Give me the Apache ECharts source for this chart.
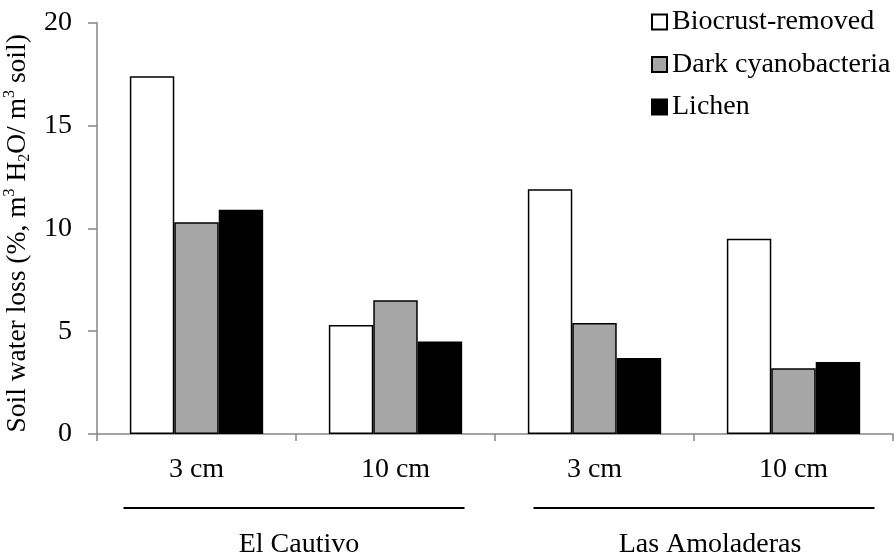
<!DOCTYPE html>
<html>
<head>
<meta charset="utf-8">
<script src="https://cdn.jsdelivr.net/npm/echarts@6/dist/echarts.min.js"></script>
<style>
  html, body { margin: 0; padding: 0; background: #fff; }
  #chart { width: 894px; height: 557px; }
</style>
</head>
<body>
<div id="chart"></div>
<script>
// Soil depth categories, grouped by site
const depths = ['3 cm', '10 cm', '3 cm', '10 cm'];
const sites = ['El Cautivo', 'Las Amoladeras'];
const yTicks = [0, 5, 10, 15, 20];

// Soil water loss (%) per treatment
const biocrustRemoved = [17.4, 5.3, 11.9, 9.5];
const darkCyanobacteria = [10.3, 6.5, 5.4, 3.2];
const lichen = [10.9, 4.5, 3.7, 3.5];

const FONT = '"Liberation Serif", "Times New Roman", serif';
const FS = 28;
const AXIS_GREY = '#868686';

const chart = echarts.init(document.getElementById('chart'));

function barSeries(name, values, fill) {
  return {
    name: name,
    type: 'bar',
    data: values,
    barGap: '0%',
    barCategoryGap: '33%',
    itemStyle: { color: fill, borderColor: '#000', borderWidth: 1.5 },
    emphasis: { disabled: true }
  };
}

chart.setOption({
  animation: false,
  backgroundColor: '#fff',
  grid: { left: 97, right: 1, top: 22.7, bottom: 123, outerBoundsMode: 'none', containLabel: false },
  legend: {
    orient: 'vertical',
    left: 646,
    top: 3,
    itemWidth: 15,
    itemHeight: 15,
    itemGap: 14.5,
    icon: 'rect',
    selectedMode: false,
    textStyle: { fontFamily: FONT, fontSize: FS, color: '#000' },
    data: ['Biocrust-removed', 'Dark cyanobacteria', 'Lichen']
  },
  xAxis: {
    type: 'category',
    data: depths,
    boundaryGap: true,
    axisLine: { lineStyle: { color: AXIS_GREY, width: 1.5 } },
    axisTick: { show: true, length: 7, lineStyle: { color: AXIS_GREY, width: 1.5 } },
    axisLabel: { margin: 22, fontFamily: FONT, fontSize: FS, color: '#000' },
    splitLine: { show: false }
  },
  yAxis: {
    type: 'value',
    min: yTicks[0],
    max: yTicks[yTicks.length - 1],
    interval: yTicks[1] - yTicks[0],
    axisLine: { show: true, lineStyle: { color: AXIS_GREY, width: 1.5 } },
    axisTick: { show: true, length: 9, lineStyle: { color: AXIS_GREY, width: 1.5 } },
    axisLabel: { margin: 25, fontFamily: FONT, fontSize: FS, color: '#000' },
    splitLine: { show: false },
    name: '{a|Soil water loss (%, m}{sup|3}{a| H}{sub|2}{a|O/ m}{sup|3}{a| soil)}',
    nameLocation: 'middle',
    nameGap: 48,
    nameRotate: 90,
    nameTextStyle: {
      padding: [0, 10, 0, 0],
      rich: {
        a: { fontFamily: FONT, fontSize: 27.5, color: '#000', lineHeight: 31 },
        sup: { fontFamily: FONT, fontSize: 16, color: '#000', lineHeight: 16, verticalAlign: 'top' },
        sub: { fontFamily: FONT, fontSize: 16, color: '#000', lineHeight: 12, verticalAlign: 'bottom' }
      }
    }
  },
  series: [
    barSeries('Biocrust-removed', biocrustRemoved, '#ffffff'),
    barSeries('Dark cyanobacteria', darkCyanobacteria, '#a6a6a6'),
    barSeries('Lichen', lichen, '#000000')
  ]
});

// Site brackets under the depth labels, placed from the category axis
function drawSites() {
  const cx = depths.map((_, i) => chart.convertToPixel({ xAxisIndex: 0 }, i));
  const lineY = 508;
  const textY = 545;
  const spans = [
    { x1: cx[0] - 73, x2: cx[1] + 69, tx: (cx[0] + cx[1]) / 2 + 3 },
    { x1: cx[2] - 61, x2: cx[3] + 81, tx: (cx[2] + cx[3]) / 2 + 16 }
  ];
  const elements = [];
  spans.forEach((s, k) => {
    elements.push({
      type: 'line',
      shape: { x1: s.x1, y1: lineY, x2: s.x2, y2: lineY },
      style: { stroke: '#000', lineWidth: 2 },
      silent: true
    });
    elements.push({
      type: 'text',
      x: s.tx,
      y: textY,
      style: {
        text: sites[k],
        font: FS + 'px ' + FONT,
        fill: '#000',
        align: 'center',
        verticalAlign: 'middle'
      },
      silent: true
    });
  });
  chart.setOption({ graphic: { elements: elements } });
}
drawSites();
</script>
</body>
</html>
